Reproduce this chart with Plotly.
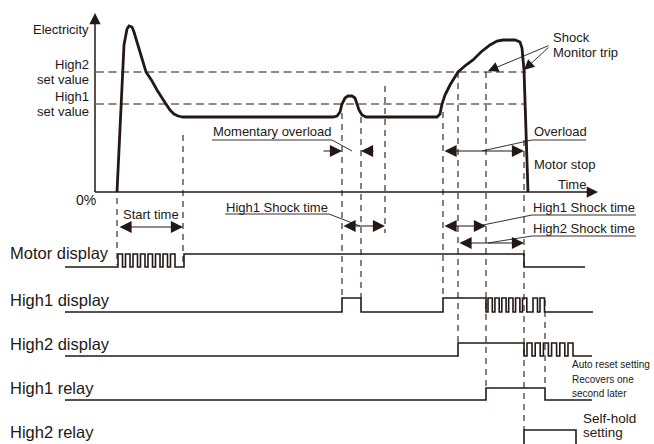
import plotly.graph_objects as go

INK = "#231815"
FONT = "Liberation Sans, Arial, sans-serif"

# electricity curve (x = time, y = level, screen units, y grows downward)
curve_x = [117, 121, 124, 127, 129, 132, 134, 140, 146, 152, 157, 164, 170, 174, 178, 183,
           333, 337, 340, 342, 345, 348, 352, 355, 357, 359, 362, 366,
           437, 440, 442, 445, 450, 454, 458, 466, 473, 481, 490, 497, 503, 515, 520, 522, 523, 524, 528]
curve_y = [192, 110, 45, 29, 26, 27, 32, 52, 72, 81, 90, 101, 110, 114, 116, 117,
           117, 116, 112, 104, 98, 96, 96, 98, 104, 110, 115, 117,
           117, 114, 104, 95, 85, 78, 72, 65, 60, 52, 45, 41, 40, 40, 42, 48, 60, 70, 192]

level_names = ["High2", "High1"]
level_y = [72, 104]

# event times
t_events = [117, 183, 342, 361, 385, 443, 458, 486, 524, 545]
# dashed guide extents (top, bottom) per event
guide_top = [198, 135, 113, 117, 86, 112, 72, 72, 140, 300]
guide_bot = [265, 262, 298, 298, 233, 298, 343, 388, 430, 388]

# timing rows
row_names = ["Motor display", "High1 display", "High2 display", "High1 relay", "High2 relay"]
row_low = [267, 312, 356, 400, 447]
row_high = [254, 298, 343, 388, 430]
row_x0 = [65, 65, 65, 65, None]
row_x1 = [585, 593, 592, 592, None]
row_on = [
    [(118, 122.5), (125.5, 130), (133, 137.5), (140.5, 145), (148, 152.5), (155.5, 160),
     (163, 167.5), (170.5, 175), (184, 524)],
    [(342, 361), (443, 486), (488, 492.3), (494.9, 499.2), (501.8, 506.1), (508.7, 513),
     (515.6, 519.9), (522.5, 526.8), (533, 537.5), (540, 544.5)],
    [(458, 524), (527, 532), (535.2, 540.2), (543.4, 548.4), (551.6, 556.6), (559.8, 564.8),
     (568, 573)],
    [(486, 545)],
    [(524, 576)],
]

fig = go.Figure()


def add_line(xs, ys, width=1.4, dash=None):
    fig.add_trace(
        go.Scatter(
            x=xs, y=ys, mode="lines",
            line=dict(color=INK, width=width, dash=dash),
            hoverinfo="skip", showlegend=False,
        )
    )


def add_arrow(x0, y0, x1, y1, both=False, width=1.1, size=2.2):
    fig.add_annotation(
        x=x1, y=y1, ax=x0, ay=y0, xref="x", yref="y", axref="x", ayref="y",
        text="", showarrow=True, arrowhead=2, arrowsize=size, arrowwidth=width,
        arrowcolor=INK, arrowside="end+start" if both else "end", standoff=0, startstandoff=0,
    )


def add_text(x, y, s, size=13, anchor="left", family=FONT):
    fig.add_annotation(
        x=x, y=y, xref="x", yref="y", text=s, showarrow=False,
        xanchor=anchor, yanchor="middle", borderpad=0,
        font=dict(family=family, size=size, color=INK),
    )


# set value lines
for ly in level_y:
    add_line([96, 526], [ly, ly], width=1.1, dash="8px,4.5px")

# guides
for t, a, b in zip(t_events, guide_top, guide_bot):
    add_line([t, t], [a, b], width=1.1, dash="6px,5px")

# axes
add_line([95, 95], [192, 20], width=1.5)
add_line([95, 590], [192, 192], width=1.5)
add_arrow(95, 25, 95, 13, width=1.5, size=1.5)
add_arrow(585, 192, 598, 192, width=1.5, size=1.5)

# curve
add_line(curve_x, curve_y, width=2.8)

# timing rows
for name, lo, hi, x0, x1, on in zip(row_names, row_low, row_high, row_x0, row_x1, row_on):
    xs, ys = [], []
    if x0 is not None:
        xs.append(x0)
        ys.append(lo)
    for a, b in on:
        xs += [a, a, b, b]
        ys += [lo, hi, hi, lo]
    if x1 is not None:
        xs.append(x1)
        ys.append(lo)
    add_line(xs, ys, width=1.6)

row_label_y = [253, 300, 344, 388, 432]
for name, ly in zip(row_names, row_label_y):
    add_text(9, ly, name, size=16.5)

# axis labels
add_text(90, 29, "Electricity", size=13, anchor="right")
add_text(90, 64, "High2", size=13, anchor="right")
add_text(90, 79, "set value", size=13, anchor="right")
add_text(90, 96, "High1", size=13, anchor="right")
add_text(90, 111, "set value", size=13, anchor="right")
add_text(97, 200, "0%", size=14, anchor="right")
add_text(557, 184, "Time", size=13)

# start time
add_text(122, 214, "Start time", size=13)
add_arrow(118, 227, 183, 227, both=True)

# momentary overload
add_text(212, 131, "Momentary overload", size=13)
add_line([212, 332, 352], [140, 140, 151], width=0.9)
add_arrow(322, 151, 342, 151)
add_arrow(375, 151, 361, 151)

# left High1 shock time
add_text(225, 207, "High1 Shock time", size=13)
add_line([225, 329, 360], [214, 214, 226], width=0.9)
add_arrow(342, 226, 385, 226, both=True)

# overload
add_text(533, 131, "Overload", size=13)
add_line([586, 532, 482], [140, 140, 151], width=0.9)
add_arrow(443, 151, 524, 151, both=True)
add_text(533, 164, "Motor stop", size=13)

# shock monitor trip
add_text(552, 37, "Shock", size=13)
add_text(552, 52, "Monitor trip", size=13)
add_arrow(550, 45, 488, 71, width=0.9, size=2.3)
add_arrow(550, 46, 524, 70, width=0.9, size=2.3)

# right High1 / High2 shock time
add_text(532, 207, "High1 Shock time", size=13)
add_line([636, 532, 478], [215, 215, 226], width=0.9)
add_arrow(443, 226, 486, 226, both=True)
add_text(532, 228, "High2 Shock time", size=13)
add_line([636, 532, 488], [236, 236, 243], width=0.9)
add_arrow(458, 243, 524, 243, both=True)

# notes
add_text(571, 364, "Auto reset setting", size=10)
add_text(571, 379, "Recovers one", size=10)
add_text(571, 393, "second later", size=10)
add_text(582, 418, "Self-hold", size=13.5)
add_text(582, 432, "setting", size=13.5)

fig.update_layout(
    width=654, height=444, autosize=False,
    margin=dict(l=0, r=0, t=0, b=0),
    paper_bgcolor="white", plot_bgcolor="white",
    xaxis=dict(range=[0, 654], visible=False, fixedrange=True),
    yaxis=dict(range=[444, 0], visible=False, fixedrange=True),
)

fig.write_html(
    "out.html",
    config={"displayModeBar": False},
    post_script="document.body.style.margin='0';document.body.style.overflow='hidden';",
)
